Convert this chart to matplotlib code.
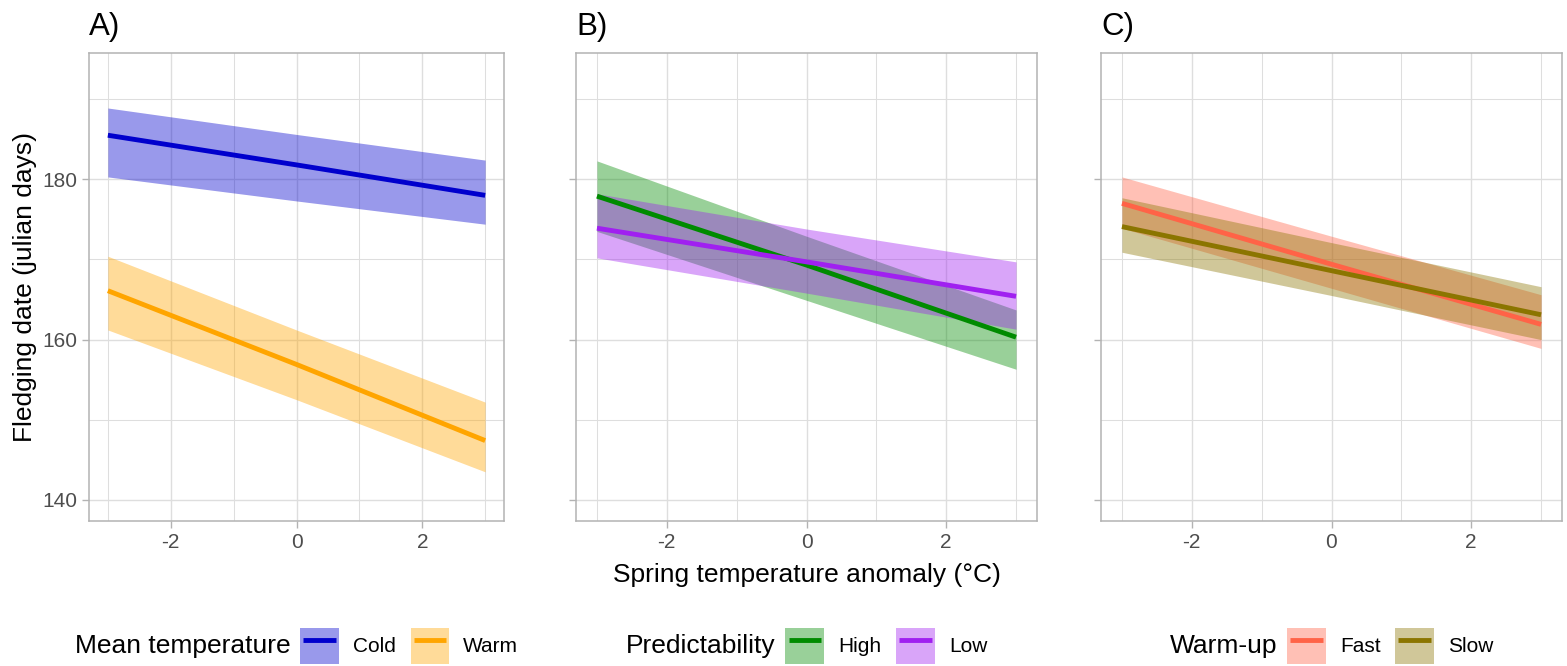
import matplotlib
matplotlib.use("Agg")
import matplotlib.pyplot as plt
from matplotlib.patches import Patch
from matplotlib.lines import Line2D
from matplotlib.legend_handler import HandlerLine2D
from matplotlib.offsetbox import HPacker
from matplotlib.ticker import MultipleLocator

plt.rcParams["font.family"] = ["Liberation Sans", "DejaVu Sans"]
plt.rcParams["axes.unicode_minus"] = False

# Vorhersagen (Fit + Konfidenzband) an den Stützstellen der Temperaturanomalie
anomaly = [-3, 0, 3]

cold_fit = [185.5, 181.8, 178.0]
cold_lo = [180.3, 177.3, 174.4]
cold_hi = [188.9, 185.6, 182.4]
warm_fit = [166.1, 156.9, 147.4]
warm_lo = [161.2, 152.5, 143.5]
warm_hi = [170.4, 161.2, 152.2]

high_fit = [177.9, 169.3, 160.3]
high_lo = [173.5, 164.9, 156.3]
high_hi = [182.3, 172.9, 163.7]
low_fit = [173.9, 169.7, 165.4]
low_lo = [170.2, 165.8, 161.3]
low_hi = [178.2, 173.8, 169.7]

fast_fit = [177.0, 169.4, 161.9]
fast_lo = [173.9, 166.4, 158.9]
fast_hi = [180.3, 172.9, 165.6]
slow_fit = [174.1, 168.6, 163.1]
slow_lo = [170.9, 165.5, 160.0]
slow_hi = [177.7, 172.1, 166.6]

panel_titles = ["A)", "B)", "C)"]
legend_titles = ["Mean temperature", "Predictability", "Warm-up"]
group_labels = [["Cold", "Warm"], ["High", "Low"], ["Fast", "Slow"]]
group_colors = [["#0000CD", "#FFA500"], ["#008B00", "#A020F0"], ["#FF6347", "#8B7500"]]

panels = [
    [(cold_fit, cold_lo, cold_hi), (warm_fit, warm_lo, warm_hi)],
    [(high_fit, high_lo, high_hi), (low_fit, low_lo, low_hi)],
    [(fast_fit, fast_lo, fast_hi), (slow_fit, slow_lo, slow_hi)],
]

W, H = 1567, 666
fig = plt.figure(figsize=(W / 100, H / 100), dpi=100)

# Panelgrenzen in Pixeln (links, rechts)
boxes = [(89, 504), (576, 1037), (1101, 1562)]
top_px, bottom_px = 52.7, 520.7

BORDER = "#B3B3B3"
GRID = "#DEDEDE"
TXT = "#4D4D4D"


def side_title(leg, sep):
    # Legendentitel links neben die Schlüssel setzen (wie bei ggplot)
    hbox = HPacker(pad=0, sep=sep, align="center",
                   children=[leg._legend_title_box, leg._legend_handle_box])
    hbox.set_figure(leg.figure)
    hbox.set_offset(leg._findoffset)
    leg._legend_box = hbox


for i, (x0, x1) in enumerate(boxes):
    ax = fig.add_axes([x0 / W, 1 - bottom_px / H, (x1 - x0) / W, (bottom_px - top_px) / H])

    for (fit, lo, hi), col in zip(panels[i], group_colors[i]):
        ax.fill_between(anomaly, lo, hi, color=col, alpha=0.4, linewidth=0, zorder=2)
    for (fit, lo, hi), col in zip(panels[i], group_colors[i]):
        ax.plot(anomaly, fit, color=col, lw=3.5, solid_capstyle="butt", zorder=3)

    ax.set_xlim(-3.3, 3.3)
    ax.set_ylim(137.4, 195.8)
    ax.xaxis.set_major_locator(MultipleLocator(2))
    ax.xaxis.set_minor_locator(MultipleLocator(1))
    ax.set_yticks([140, 160, 180])
    ax.set_yticks([150, 170, 190], minor=True)
    ax.grid(which="major", color=GRID, lw=1.0, zorder=0)
    ax.grid(which="minor", color=GRID, lw=0.75, zorder=0)
    ax.set_axisbelow(True)
    for s in ax.spines.values():
        s.set_color(BORDER)
        s.set_linewidth(1.1)
    ax.tick_params(which="major", length=5, width=1.0, color=BORDER,
                   labelcolor=TXT, labelsize=15, pad=3.5)
    ax.tick_params(which="minor", length=0)
    if i > 0:
        ax.tick_params(axis="y", labelleft=False)

    fig.text(x0 / W, 1 - 34.5 / H, panel_titles[i], fontsize=22.5,
             ha="left", va="baseline", color="black")

    handles = []
    for col in group_colors[i]:
        handles.append((Patch(facecolor=col, alpha=0.4, edgecolor="none"),
                        Line2D([], [], color=col, lw=3.5, solid_capstyle="butt")))
    leg = ax.legend(handles, group_labels[i], title=legend_titles[i], ncol=2,
                    loc="center", bbox_to_anchor=((x0 + x1) / 2 / W, 1 - 646 / H),
                    bbox_transform=fig.transFigure, frameon=False,
                    fontsize=15, title_fontsize=19, handlelength=1.86,
                    handleheight=2.35, handletextpad=0.67, columnspacing=0.71,
                    borderpad=0, borderaxespad=0,
                    handler_map={Line2D: HandlerLine2D(numpoints=2, marker_pad=0.15)})
    side_title(leg, 7.2)

fig.text(25 / W, 1 - (top_px + bottom_px) / 2 / H, "Fledging date (julian days)",
         rotation=90, ha="center", va="center", fontsize=19)
fig.text((boxes[1][0] + boxes[1][1]) / 2 / W, 1 - 582 / H,
         "Spring temperature anomaly (°C)", ha="center", va="baseline", fontsize=19)

fig.savefig("out.png", dpi=100)
